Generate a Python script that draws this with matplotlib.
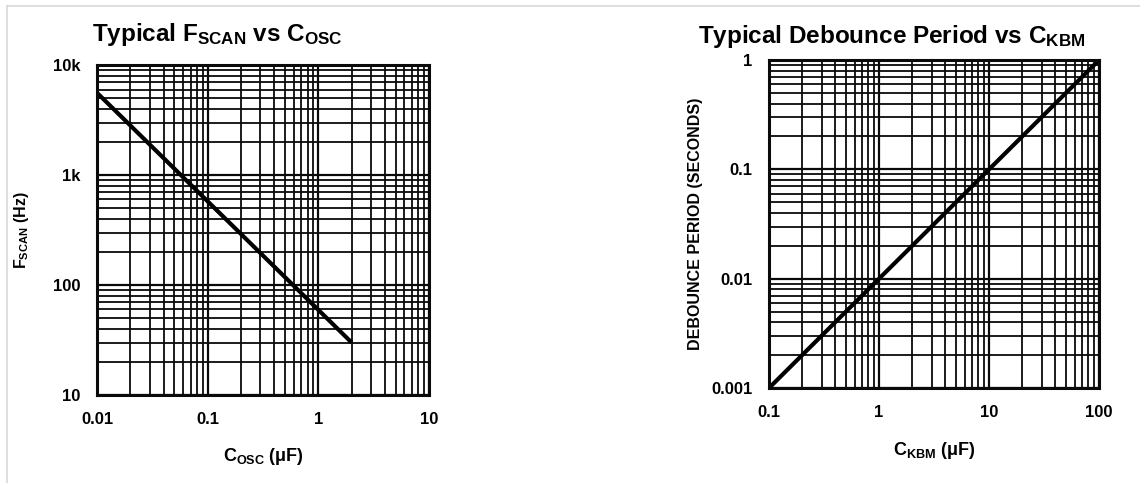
import matplotlib
matplotlib.use("Agg")
import matplotlib.pyplot as plt
from matplotlib.lines import Line2D
from matplotlib.ticker import FixedLocator, LogLocator, NullFormatter

plt.rcParams['font.family'] = ['Liberation Sans', 'DejaVu Sans']
plt.rcParams['font.weight'] = 'bold'
plt.rcParams['axes.labelweight'] = 'bold'
plt.rcParams['axes.titleweight'] = 'bold'
plt.rcParams['mathtext.fontset'] = 'custom'
plt.rcParams['mathtext.rm'] = 'Liberation Sans:bold'
plt.rcParams['mathtext.bf'] = 'Liberation Sans:bold'
plt.rcParams['mathtext.it'] = 'Liberation Sans:bold'

# F_SCAN vs C_OSC
c_osc = [0.01, 2.0]
f_scan = [5600, 30]
scan_xticks = [0.01, 0.1, 1, 10]
scan_xlabels = ["0.01", "0.1", "1", "10"]
scan_yticks = [10, 100, 1000, 10000]
scan_ylabels = ["10", "100", "1k", "10k"]

# Debounce period vs C_KBM
c_kbm = [0.1, 100]
debounce = [0.001, 1]
kbm_xticks = [0.1, 1, 10, 100]
kbm_xlabels = ["0.1", "1", "10", "100"]
kbm_yticks = [0.001, 0.01, 0.1, 1]
kbm_ylabels = ["0.001", "0.01", "0.1", "1"]


def log_grid(ax, xlim, ylim, xticks, xlabels, yticks, ylabels):
    ax.set_xscale('log')
    ax.set_yscale('log')
    ax.set_xlim(*xlim)
    ax.set_ylim(*ylim)
    ax.xaxis.set_major_locator(FixedLocator(xticks))
    ax.yaxis.set_major_locator(FixedLocator(yticks))
    ax.set_xticklabels(xlabels)
    ax.set_yticklabels(ylabels)
    ax.xaxis.set_minor_locator(LogLocator(base=10, subs=range(2, 10), numticks=20))
    ax.yaxis.set_minor_locator(LogLocator(base=10, subs=range(2, 10), numticks=20))
    ax.xaxis.set_minor_formatter(NullFormatter())
    ax.yaxis.set_minor_formatter(NullFormatter())
    ax.grid(which='major', color='#0a0a0a', linewidth=1.6)
    ax.grid(which='minor', color='#0a0a0a', linewidth=1.3)
    ax.tick_params(which='both', length=0, labelsize=12, pad=12)
    for s in ax.spines.values():
        s.set_linewidth(2.2)
        s.set_color('#0a0a0a')


fig = plt.figure(figsize=(11.4, 4.83), dpi=100)

ax1 = fig.add_axes([0.0851, 0.1822, 0.2912, 0.683])
log_grid(ax1, (0.01, 10), (10, 10000), scan_xticks, scan_xlabels, scan_yticks, scan_ylabels)
ax1.plot(c_osc, f_scan, color='black', linewidth=3.0, solid_capstyle='butt')
ax1.set_title(r"Typical F$_{\mathrm{SCAN}}$ vs C$_{\mathrm{OSC}}$", fontsize=17.5,
              loc='left', x=-0.015, pad=17)
ax1.set_xlabel(r"C$_{\mathrm{OSC}}$ $\mathregular{(\mu F)}$", fontsize=13, labelpad=14)
ax1.set_ylabel(r"F$_{\mathrm{SCAN}}$ (Hz)", fontsize=11.5, labelpad=16)

ax2 = fig.add_axes([0.6746, 0.1967, 0.2895, 0.679])
log_grid(ax2, (0.1, 100), (0.001, 1), kbm_xticks, kbm_xlabels, kbm_yticks, kbm_ylabels)
ax2.plot(c_kbm, debounce, color='black', linewidth=3.0, solid_capstyle='butt')
ax2.set_title(r"Typical Debounce Period vs C$_{\mathrm{KBM}}$", fontsize=17.5,
              loc='left', x=-0.215, pad=12)
ax2.set_xlabel(r"C$_{\mathrm{KBM}}$ $\mathregular{(\mu F)}$", fontsize=13, labelpad=15)
ax2.set_ylabel("DEBOUNCE PERIOD (SECONDS)", fontsize=11.5, labelpad=6)

# thin grey frame along top and left edges
fig.add_artist(Line2D([7 / 1140, 1], [1 - 6 / 483, 1 - 6 / 483], color='#d8d8d8', linewidth=1.2))
fig.add_artist(Line2D([7 / 1140, 7 / 1140], [0, 1 - 6 / 483], color='#d8d8d8', linewidth=1.2))

fig.savefig("out.png", dpi=100)
